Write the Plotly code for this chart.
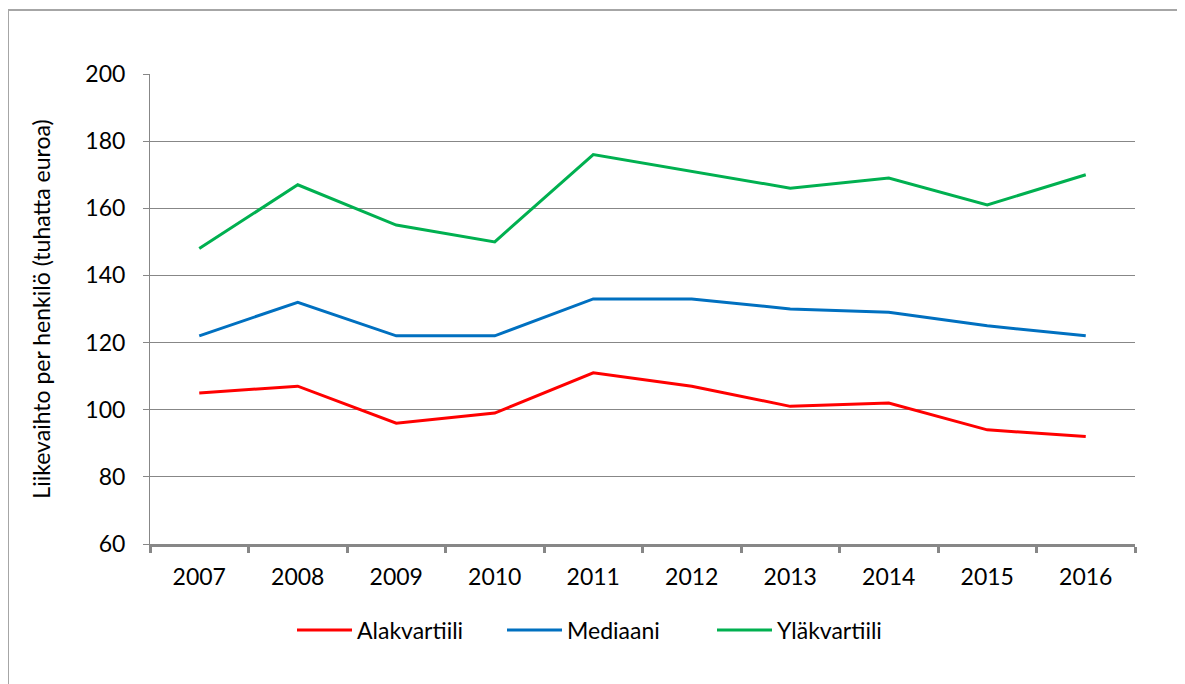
import plotly.graph_objects as go

years = ["2007", "2008", "2009", "2010", "2011", "2012", "2013", "2014", "2015", "2016"]
alakvartiili = [105, 107, 96, 99, 111, 107, 101, 102, 94, 92]
mediaani = [122, 132, 122, 122, 133, 133, 130, 129, 125, 122]
ylakvartiili = [148, 167, 155, 150, 176, 171, 166, 169, 161, 170]

names = ["Alakvartiili", "Mediaani", "Yläkvartiili"]
colors = ["#FF0000", "#0070C0", "#00B050"]
series = [alakvartiili, mediaani, ylakvartiili]

FONT = "Lato, Carlito, Calibri, sans-serif"
FS = 23

fig = go.Figure()
for n, c, s in zip(names, colors, series):
    fig.add_trace(go.Scatter(x=years, y=s, name=n, mode="lines",
                             line=dict(color=c, width=3)))

# page has an 8px body margin; figure is drawn at page offset (8, 8)
OFF = 8
W, H = 1185 - OFF, 684 - OFF
# plot area in page pixels: x 150..1135, y 74..544
PL, PR, PT, PB = 150, 1135, 74, 544
L, T = PL - OFF, PT - OFF
pw, ph = PR - PL, PB - PT
R, B = W - L - pw, H - T - ph

def px_x(x):  # page px -> paper x
    return (x - PL) / pw

def px_y(y):  # page px -> paper y
    return (PB - y) / ph

fig.update_layout(
    width=W, height=H,
    margin=dict(l=L, r=R, t=T, b=B, autoexpand=False),
    paper_bgcolor="white", plot_bgcolor="white",
    font=dict(family=FONT, size=FS, color="black"),
    showlegend=True,
    legend=dict(orientation="h", x=px_x(292), xanchor="left", y=px_y(630), yanchor="middle",
                font=dict(size=FS), entrywidth=140, entrywidthmode="pixels",
                itemwidth=55),
    xaxis=dict(type="category", range=[-0.5, 9.5], tickson="boundaries",
               showline=True, linecolor="#878787", linewidth=3,
               ticks="outside", ticklen=6, tickwidth=3, tickcolor="#878787",
               showgrid=False, zeroline=False, fixedrange=True,
               ticklabelstandoff=10,
               tickfont=dict(size=FS)),
    yaxis=dict(range=[60, 200], dtick=20, tick0=60,
               showline=True, linecolor="#878787", linewidth=1,
               ticks="outside", ticklen=6, tickcolor="#878787",
               showgrid=True, gridcolor="#878787", gridwidth=1,
               zeroline=False, fixedrange=True,
               ticklabelstandoff=13,
               tickfont=dict(size=FS),
               title=dict(text="Liikevaihto per henkilö (tuhatta euroa)",
                          font=dict(size=FS), standoff=28)),
    shapes=[dict(type="rect", xref="paper", yref="paper",
                 x0=px_x(8), x1=px_x(1200), y0=px_y(700), y1=px_y(10),
                 line=dict(color="#A6A6A6", width=2), fillcolor="rgba(0,0,0,0)",
                 layer="below")],
)

fig.write_html("out.html")
